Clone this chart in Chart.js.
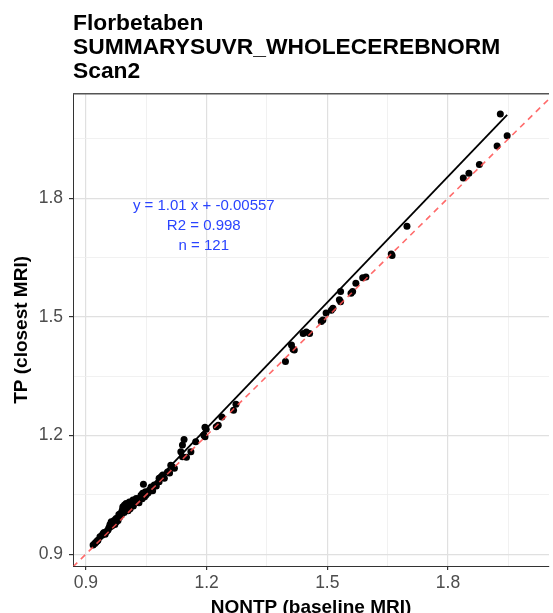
<!DOCTYPE html>
<html><head><meta charset="utf-8">
<script src="https://cdn.jsdelivr.net/npm/chart.js@4/dist/chart.umd.min.js"></script>
<style>html,body{margin:0;padding:0;background:#fff}#wrap{width:553px;height:613px}</style>
</head><body><div id="wrap"><canvas id="c" width="553" height="613"></canvas></div>
<script>
const titleLines = ["Florbetaben", "SUMMARYSUVR_WHOLECEREBNORM", "Scan2"];
const xLabel = "NONTP (baseline MRI)";
const yLabel = "TP (closest MRI)";
const majorTicks = [0.9, 1.2, 1.5, 1.8];
const minorTicks = [1.05, 1.35, 1.65, 1.95];
const xLimits = [0.868, 2.051];
const yLimits = [0.870, 2.064];
const nontp = [
  0.918,0.922,0.925,0.928,0.930,0.935,0.940,0.943,0.945,0.948,0.952,0.955,0.957,0.959,0.960,0.962,0.963,0.965,0.967,0.970,
  0.972,0.975,0.976,0.978,0.980,0.982,0.984,0.986,0.988,0.990,0.992,0.992,0.994,0.995,0.996,0.998,1.000,1.002,1.003,1.005,
  1.008,1.008,1.010,1.012,1.015,1.017,1.018,1.020,1.021,1.025,1.028,1.030,1.032,1.037,1.040,1.041,1.043,1.046,1.048,1.050,
  1.055,1.058,1.062,1.066,1.070,1.075,1.082,1.082,1.087,1.091,1.095,1.103,1.108,1.111,1.115,1.120,1.136,1.140,1.140,1.144,
  1.150,1.161,1.173,1.193,1.196,1.196,1.199,1.224,1.229,1.238,1.267,1.273,
  1.396,1.411,1.415,1.418,1.440,1.448,1.456,1.485,1.489,1.497,1.510,1.514,1.530,1.533,1.533,1.559,1.563,1.571,1.588,1.596,
  1.659,1.661,1.698,1.838,1.852,1.878,1.922,1.930,1.947
];
const tp = [
  0.923,0.927,0.930,0.933,0.935,0.944,0.948,0.952,0.955,0.950,0.958,0.961,0.966,0.969,0.975,0.970,0.982,0.972,0.978,0.985,
  0.975,0.990,0.982,0.990,0.985,1.000,0.994,1.003,0.999,1.010,1.016,1.020,1.008,1.005,1.024,1.012,1.028,1.018,1.025,1.010,
  1.024,1.032,1.015,1.022,1.030,1.037,1.022,1.028,1.032,1.041,1.035,1.040,1.030,1.049,1.040,1.054,1.077,1.045,1.058,1.050,
  1.055,1.062,1.070,1.060,1.075,1.072,1.083,1.092,1.096,1.100,1.092,1.108,1.105,1.125,1.121,1.117,1.159,1.146,1.176,1.190,
  1.145,1.159,1.184,1.201,1.197,1.221,1.216,1.222,1.226,1.247,1.264,1.279,
  1.387,1.429,1.418,1.416,1.458,1.462,1.458,1.488,1.492,1.510,1.517,1.522,1.543,1.564,1.538,1.560,1.564,1.585,1.599,1.601,
  1.659,1.655,1.729,1.851,1.863,1.885,1.932,2.013,1.958
];
const fitCoef = [1.061, -0.055];
const annotationLines = ["y = 1.01 x + -0.00557", "R2 = 0.998", "n = 121"];

const annotationAnchor = {x: 1.193, y: 1.78, lineGap: 20};
const FONT = "'Liberation Sans', Arial, sans-serif";
const isMajor = v => majorTicks.some(m => Math.abs(m - v) < 1e-6);
const allTicks = [...majorTicks, ...minorTicks].sort((a, b) => a - b);

const pts = nontp.map((x, i) => ({x: x, y: tp[i]}));
const xmin = Math.min(...nontp), xmax = Math.max(...nontp);
const fitPts = [xmin, xmax].map(x => ({x: x, y: fitCoef[0] * x + fitCoef[1]}));
const lo = Math.min(xLimits[0], yLimits[0]), hi = Math.max(xLimits[1], yLimits[1]);
const idPts = [lo, hi].map(v => ({x: v, y: v}));

const extras = {
  id: 'extras',
  afterDatasetsDraw(chart) {
    const {ctx, chartArea, scales} = chart;
    ctx.save();
    ctx.fillStyle = '#2a44ff';
    ctx.font = "15px " + FONT;
    ctx.textAlign = 'center';
    ctx.textBaseline = 'middle';
    const px = scales.x.getPixelForValue(annotationAnchor.x);
    const py = scales.y.getPixelForValue(annotationAnchor.y);
    annotationLines.forEach((t, i) => ctx.fillText(t, px, py + i * annotationAnchor.lineGap));
    ctx.strokeStyle = '#555';
    ctx.lineWidth = 1.5;
    ctx.beginPath();
    ctx.moveTo(chartArea.left, chartArea.top);
    ctx.lineTo(chartArea.right, chartArea.top);
    ctx.stroke();
    ctx.restore();
  }
};

function axis(limits, label, isX) {
  return {
    type: 'linear', min: limits[0], max: limits[1],
    afterBuildTicks: s => { s.ticks = allTicks.map(v => ({value: v})); },
    afterFit: s => { if (isX) s.height = 47; else s.width = 73; },
    ticks: {
      autoSkip: false, maxRotation: 0, color: '#4d4d4d', padding: isX ? 3 : 6,
      font: {family: FONT, size: 17.5},
      callback: v => isMajor(v) ? v.toFixed(1) : ''
    },
    grid: {
      color: c => isMajor(c.tick.value) ? '#e0e0e0' : '#eeeeee',
      lineWidth: c => isMajor(c.tick.value) ? 1.2 : 0.8,
      tickColor: c => isMajor(c.tick.value) ? '#333' : 'rgba(0,0,0,0)',
      tickLength: 4, drawTicks: true
    },
    border: {display: true, color: '#333', width: 1},
    title: {
      display: true, text: label, color: '#000',
      font: {family: FONT, size: 19, weight: 'bold', lineHeight: 1.2},
      padding: isX ? {top: 0, bottom: -6} : {top: 10.6, bottom: 0}
    }
  };
}

new Chart(document.getElementById('c'), {
  type: 'scatter',
  data: {datasets: [
    {data: pts, backgroundColor: '#000', borderColor: '#000', pointRadius: 3.5, borderWidth: 0, order: 3},
    {type: 'line', data: fitPts, borderColor: '#000', borderWidth: 1.8, pointRadius: 0, fill: false, order: 2},
    {type: 'line', data: idPts, borderColor: 'rgba(255,80,80,0.85)', borderDash: [6, 5], borderWidth: 1.6, pointRadius: 0, fill: false, order: 1}
  ]},
  options: {
    responsive: false, animation: false,
    layout: {padding: 0},
    plugins: {
      legend: {display: false}, tooltip: {enabled: false},
      title: {
        display: true, text: titleLines, align: 'start', fullSize: false, color: '#000',
        font: {family: FONT, size: 22.8, weight: 'bold', lineHeight: 1.05},
        padding: {top: 12, bottom: 10}
      }
    },
    scales: {x: axis(xLimits, xLabel, true), y: axis(yLimits, yLabel, false)}
  },
  plugins: [extras]
});
</script></body></html>
